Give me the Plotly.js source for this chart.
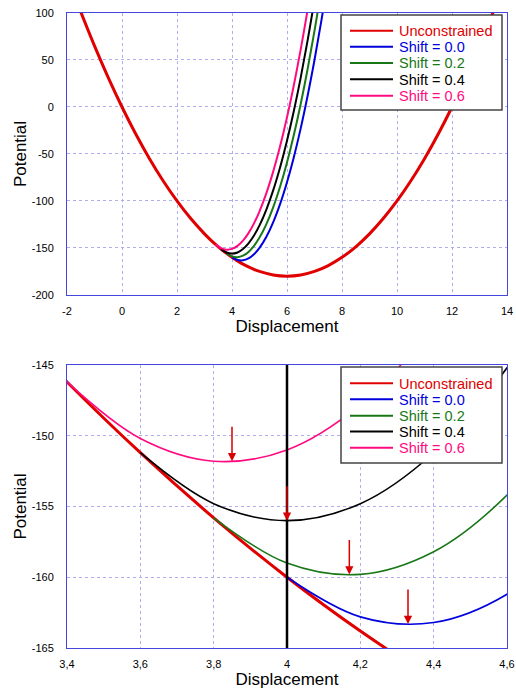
<!DOCTYPE html>
<html>
<head>
<meta charset="utf-8">
<script src="https://cdn.plot.ly/plotly-3.0.1.min.js"></script>
<style>html,body{margin:0;padding:0;background:#fff;}#chart{width:516px;height:693px;}</style>
</head>
<body>
<div id="chart"></div>
<script>
// ---- data ----
const seriesNames = ["Unconstrained", "Shift = 0.0", "Shift = 0.2", "Shift = 0.4", "Shift = 0.6"];

const unconX = [-1.5,-1,-0.5,0,0.5,1,1.5,2,2.5,3,3.2,3.4,3.6,3.8,4,4.2,4.4,4.6,4.8,5,5.5,6,6.5,7,7.5,8,8.5,9,9.5,10,10.5,11,11.5,12,12.5,13,13.5];
const unconY = [101.25,65,31.25,0,-28.75,-55,-78.75,-100,-118.75,-135,-140.8,-146.2,-151.2,-155.8,-160,-163.8,-167.2,-170.2,-172.8,-175,-178.75,-180,-178.75,-175,-168.75,-160,-148.75,-135,-118.75,-100,-78.75,-55,-28.75,0,31.25,65,101.25];

const shift0X = [4,4.2,4.4,4.6,4.8,5,5.25,5.5,5.75,6,6.25,6.5,6.75,7,7.25,7.5];
const shift0Y = [-160,-162.8,-163.2,-161.2,-156.8,-150,-138.1,-122.5,-103.1,-80,-53.1,-22.5,11.9,50,91.9,137.5];

const shift2X = [3.8,4,4.2,4.4,4.6,4.8,5,5.25,5.5,5.75,6,6.25,6.5,6.75,7,7.25];
const shift2Y = [-155.8,-159,-159.8,-158.2,-154.2,-147.8,-139,-124.6,-106.5,-84.6,-59,-29.6,3.5,40.4,81,125.4];

const shift4X = [3.6,3.8,4,4.2,4.4,4.6,4.8,5,5.25,5.5,5.75,6,6.25,6.5,6.75,7];
const shift4Y = [-151.2,-154.8,-156,-154.8,-151.2,-145.2,-136.8,-126,-109.1,-88.5,-64.1,-36,-4.1,31.5,70.9,114];

const shift6X = [3.4,3.6,3.8,4,4.2,4.4,4.6,4.8,5,5.25,5.5,5.75,6,6.25,6.5,6.75];
const shift6Y = [-146.2,-150.2,-151.8,-151,-147.8,-142.2,-134.2,-123.8,-111,-91.6,-68.5,-41.6,-11,23.4,61.5,103.4];

// minima marked by arrows in the lower panel
const minX = [3.85, 4.0, 4.17, 4.33];
const minY = [-151.8, -156, -159.8, -163.3];
// constraint position (vertical line in lower panel)
const constraintX = [4];

// tick values / labels
const topXTicks = [-2, 0, 2, 4, 6, 8, 10, 12, 14];
const topXLabels = ["-2", "0", "2", "4", "6", "8", "10", "12", "14"];
const topYTicks = [-200, -150, -100, -50, 0, 50, 100];
const topYLabels = ["-200", "-150", "-100", "-50", "0", "50", "100"];
const botXTicks = [3.4, 3.6, 3.8, 4.0, 4.2, 4.4, 4.6];
const botXLabels = ["3,4", "3,6", "3,8", "4", "4,2", "4,4", "4,6"];
const botYTicks = [-165, -160, -155, -150, -145];
const botYLabels = ["-165", "-160", "-155", "-150", "-145"];

// ---- styling ----
const colors = ["#e00000", "#0000dd", "#187818", "#000000", "#ff0a80"];
const xs = [unconX, shift0X, shift2X, shift4X, shift6X];
const ys = [unconY, shift0Y, shift2Y, shift4Y, shift6Y];
const topWidths = [3, 2, 2, 2, 2];
const botWidths = [3, 1.6, 1.6, 1.6, 1.6];

const FONT = "Arial, 'Liberation Sans', sans-serif";
const W = 516, H = 693;
const M = {l: 67, r: 9, t: 13, b: 45};
const PW = W - M.l - M.r, PH = H - M.t - M.b;
const px2x = p => (p - M.l) / PW;
const px2y = p => (H - M.b - p) / PH;

const traces = [];
for (let i = 0; i < xs.length; i++) {
  traces.push({
    x: xs[i], y: ys[i], xaxis: 'x', yaxis: 'y', type: 'scatter', mode: 'lines',
    name: seriesNames[i], showlegend: false,
    line: {color: colors[i], width: topWidths[i], shape: 'spline', smoothing: 1}
  });
}
for (let i = 0; i < xs.length; i++) {
  traces.push({
    x: xs[i], y: ys[i], xaxis: 'x2', yaxis: 'y2', type: 'scatter', mode: 'lines',
    name: seriesNames[i], showlegend: false,
    line: {color: colors[i], width: botWidths[i], shape: 'spline', smoothing: 1}
  });
}

const axisColor = 'rgb(70,70,225)';
const gridColor = 'rgb(175,175,240)';
function ax(extra) {
  return Object.assign({
    showline: true, linecolor: axisColor, linewidth: 1, mirror: true,
    showgrid: true, gridcolor: gridColor, griddash: 'dot', gridwidth: 1,
    zeroline: false, ticks: '', tickfont: {family: FONT, size: 11, color: '#000'},
    tickmode: 'array'
  }, extra);
}
const titleFont = {family: FONT, size: 17, color: '#000'};

const annotations = minX.map((mx, i) => ({
  x: mx, y: minY[i], xref: 'x2', yref: 'y2', text: '', showarrow: true,
  ax: 0, ay: -36, arrowcolor: '#d80000', arrowhead: 2, arrowsize: 1.1, arrowwidth: 1.5, standoff: 0
}));

const shapes = constraintX.map(cx => ({
  type: 'line', xref: 'x2', yref: 'y2 domain', x0: cx, x1: cx, y0: 0, y1: 1,
  line: {color: '#000', width: 2.5}
}));

// hand-drawn legends (box, sample lines, coloured labels) to match the compact spacing
function addLegend(boxTop, boxBottom, rowYs) {
  const boxL = 341, boxR = 502;
  shapes.push({
    type: 'rect', xref: 'paper', yref: 'paper',
    x0: px2x(boxL), x1: px2x(boxR), y0: px2y(boxBottom), y1: px2y(boxTop),
    fillcolor: '#fff', line: {color: '#444', width: 1.5}, layer: 'above'
  });
  rowYs.forEach((ry, i) => {
    shapes.push({
      type: 'line', xref: 'paper', yref: 'paper',
      x0: px2x(350), x1: px2x(393), y0: px2y(ry), y1: px2y(ry),
      line: {color: colors[i], width: 2}, layer: 'above'
    });
    annotations.push({
      xref: 'paper', yref: 'paper', x: px2x(397), y: px2y(ry + 0.5),
      xanchor: 'left', yanchor: 'middle', showarrow: false,
      text: seriesNames[i], font: {family: FONT, size: 14.5, color: colors[i]}
    });
  });
}
addLegend(15, 110, [30.7, 46.7, 62.9, 79.3, 95.7]);
addLegend(367, 463, [383.3, 399.3, 415.7, 431.5, 447.7]);

const layout = {
  width: W, height: H,
  margin: M,
  paper_bgcolor: '#fff', plot_bgcolor: '#fff',
  font: {family: FONT},
  showlegend: false,
  xaxis: ax({domain: [0, 1], range: [-2, 14], tickvals: topXTicks, ticktext: topXLabels, anchor: 'y',
    ticklabelstandoff: 6, title: {text: 'Displacement', standoff: 3, font: titleFont}}),
  yaxis: ax({domain: [0.556, 1], range: [-200, 100], tickvals: topYTicks, ticktext: topYLabels, anchor: 'x',
    ticklabelstandoff: 10, title: {text: 'Potential', standoff: 0, font: titleFont}}),
  xaxis2: ax({domain: [0, 1], range: [3.4, 4.6], tickvals: botXTicks, ticktext: botXLabels, anchor: 'y2',
    ticklabelstandoff: 6, title: {text: 'Displacement', standoff: 3, font: titleFont}}),
  yaxis2: ax({domain: [0, 0.4457], range: [-165, -145], tickvals: botYTicks, ticktext: botYLabels, anchor: 'x2',
    ticklabelstandoff: 10, title: {text: 'Potential', standoff: 0, font: titleFont}}),
  annotations: annotations,
  shapes: shapes
};

Plotly.newPlot('chart', traces, layout, {staticPlot: true, displayModeBar: false});
</script>
</body>
</html>
